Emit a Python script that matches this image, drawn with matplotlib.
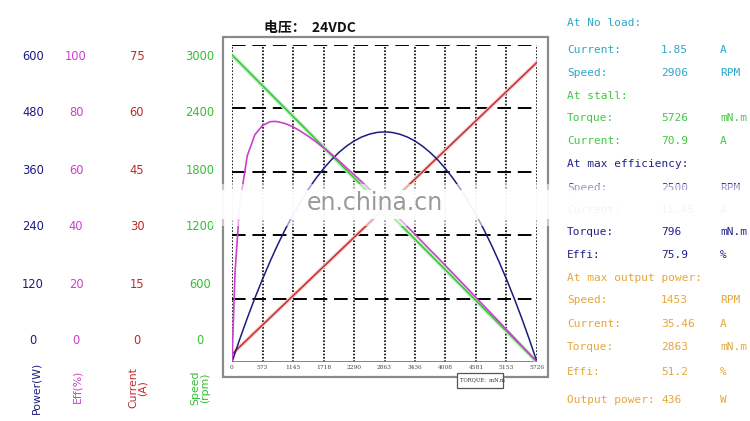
import matplotlib.pyplot as plt
from matplotlib.patches import Rectangle

# torque (mN.m) sample points
torque = [0, 57, 143, 286, 429, 573, 716, 796, 859, 1002, 1145, 1288, 1432, 1575,
          1718, 1861, 2004, 2147, 2290, 2433, 2577, 2720, 2863, 3006, 3149, 3292,
          3436, 3579, 3722, 3865, 4008, 4151, 4295, 4438, 4581, 4724, 4867, 5010,
          5153, 5296, 5440, 5583, 5726]
efficiency = [0, 28.3, 49.5, 65.0, 71.7, 74.6, 75.8, 75.9, 75.8, 75.2, 74.2, 72.8, 71.2, 69.5,
              67.6, 65.6, 63.5, 61.3, 59.1, 56.9, 54.6, 52.2, 49.9, 47.5, 45.1, 42.7,
              40.3, 37.8, 35.3, 32.9, 30.4, 27.9, 25.4, 22.9, 20.3, 17.8, 15.3, 12.8,
              10.2, 7.7, 5.1, 2.6, 0]
power = [0, 17.2, 42.5, 82.8, 120.9, 156.8, 190.6, 208.5, 222.2, 251.6, 278.8, 303.8, 326.7, 347.4,
         365.9, 382.3, 396.4, 408.4, 418.2, 425.8, 431.2, 434.5, 435.6, 434.5, 431.2, 425.8,
         418.2, 408.4, 396.4, 382.3, 365.9, 347.4, 326.7, 303.8, 278.8, 251.6, 222.2, 190.6,
         156.8, 120.9, 82.8, 42.5, 0]
line_torque = [0, 5726]
speed = [2906, 0]
current = [1.85, 70.9]

torque_ticks = [0, 573, 1145, 1718, 2290, 2863, 3436, 4008, 4581, 5153, 5726]
power_ticks = [600, 480, 360, 240, 120, 0]
eff_ticks = [100, 80, 60, 40, 20, 0]
current_ticks = [75, 60, 45, 30, 15, 0]
speed_ticks = [3000, 2400, 1800, 1200, 600, 0]

C_POWER = '#1c1c80'
C_EFF = '#cc3fcc'
C_CUR = '#c02a2a'
C_SPEED = '#33c033'
C_NOLOAD = '#2ea6c8'
C_STALL = '#44c844'
C_MAXEFF = '#22228a'
C_MAXOUT = '#e6a63a'

info_rows = [
    ('At No load:', '', '', C_NOLOAD, 23),
    ('Current:', '1.85', 'A', C_NOLOAD, 50),
    ('Speed:', '2906', 'RPM', C_NOLOAD, 73),
    ('At stall:', '', '', C_STALL, 96),
    ('Torque:', '5726', 'mN.m', C_STALL, 118),
    ('Current:', '70.9', 'A', C_STALL, 141),
    ('At max efficiency:', '', '', C_MAXEFF, 164),
    ('Speed:', '2500', 'RPM', C_MAXEFF, 188),
    ('Current:', '11.45', 'A', C_MAXEFF, 210),
    ('Torque:', '796', 'mN.m', C_MAXEFF, 232),
    ('Effi:', '75.9', '%', C_MAXEFF, 255),
    ('At max output power:', '', '', C_MAXOUT, 278),
    ('Speed:', '1453', 'RPM', C_MAXOUT, 300),
    ('Current:', '35.46', 'A', C_MAXOUT, 324),
    ('Torque:', '2863', 'mN.m', C_MAXOUT, 347),
    ('Effi:', '51.2', '%', C_MAXOUT, 372),
    ('Output power:', '436', 'W', C_MAXOUT, 400),
]

W, H = 750, 421


def fx(x):
    return x / W


def fy(y):
    return 1 - y / H


fig = plt.figure(figsize=(7.5, 4.21), dpi=100)
fig.patch.set_facecolor('white')

# outer frame
fig.patches.append(Rectangle((fx(223), fy(377)), (548 - 223) / W, (377 - 37) / H,
                             transform=fig.transFigure, fill=False,
                             edgecolor='#8a8a8a', lw=1.6, zorder=0))

pos = [fx(232), fy(362), (537 - 232) / W, (362 - 45) / H]
ax = fig.add_axes(pos)
ax.set_xlim(0, 5726)
ax.set_ylim(0, 3000)
for t in torque_ticks:
    ax.axvline(t, color='black', ls=(0, (1, 1)), lw=1.2, zorder=1)
for s in speed_ticks[:-1]:
    ax.axhline(s, color='black', ls=(0, (7, 3.5)), lw=1.4, zorder=1)
ax.axhline(0, color='#7a7a7a', lw=1.3, zorder=1)
for sp in ax.spines.values():
    sp.set_visible(False)
ax.set_yticks([])
ax.set_xticks(torque_ticks)
ax.set_xticklabels([str(t) for t in torque_ticks], fontsize=4.2,
                   family='DejaVu Serif', color='#444444')
ax.tick_params(axis='x', length=0, pad=2.5)

ax.plot(line_torque, speed, color='#b8f0b8', lw=3.0, zorder=2, solid_capstyle='round')
ax.plot(line_torque, speed, color=C_SPEED, lw=1.0, zorder=3)

ax_cur = ax.twinx()
ax_cur.set_ylim(0, 75)
ax_cur.axis('off')
ax_cur.plot(line_torque, current, color='#f5c0c0', lw=2.6)
ax_cur.plot(line_torque, current, color=C_CUR, lw=1.0)

ax_pow = ax.twinx()
ax_pow.set_ylim(0, 600)
ax_pow.axis('off')
ax_pow.plot(torque, power, color=C_POWER, lw=1.1)

ax_eff = ax.twinx()
ax_eff.set_ylim(0, 100)
ax_eff.axis('off')
ax_eff.plot(torque, efficiency, color=C_EFF, lw=1.2)

# left value columns
for i in range(6):
    y = fy(56 + i * 57)
    fig.text(fx(33), y, str(power_ticks[i]), color=C_POWER, fontsize=8.3, ha='center', va='center')
    fig.text(fx(76), y, str(eff_ticks[i]), color=C_EFF, fontsize=8.3, ha='center', va='center')
    fig.text(fx(137), y, str(current_ticks[i]), color=C_CUR, fontsize=8.3, ha='center', va='center')
    fig.text(fx(200), y, str(speed_ticks[i]), color=C_SPEED, fontsize=8.3, ha='center', va='center')

fig.text(fx(36), fy(388), 'Power(W)', color=C_POWER, fontsize=7.8, rotation=90,
         ha='center', va='center')
fig.text(fx(77), fy(386), 'Eff(%)', color=C_EFF, fontsize=7.8, rotation=90,
         ha='center', va='center')
fig.text(fx(138), fy(388), 'Current\n(A)', color=C_CUR, fontsize=7.8, rotation=90,
         ha='center', va='center', linespacing=1.0)
fig.text(fx(200), fy(388), 'Speed\n(rpm)', color=C_SPEED, fontsize=7.8, rotation=90,
         ha='center', va='center', linespacing=1.0)

# title
fig.text(fx(264), fy(28), '电压：  24VDC', family=['Noto Sans CJK SC', 'DejaVu Sans'],
         fontsize=10, weight='bold', color='#111111', va='center')

# torque unit box
fig.patches.append(Rectangle((fx(457), fy(388)), 46 / W, 15 / H, transform=fig.transFigure,
                             facecolor='white', edgecolor='#555555', lw=0.9, zorder=5))
fig.text(fx(460), fy(380), 'TORQUE:  mN.m', fontsize=3.8, family='DejaVu Serif',
         color='#333333', va='center', zorder=6)

# right info panel
for label, value, unit, color, y in info_rows:
    fig.text(fx(567), fy(y), label, color=color, fontsize=8, family='DejaVu Sans Mono', va='center')
    if value:
        fig.text(fx(661), fy(y), value, color=color, fontsize=8, family='DejaVu Sans Mono', va='center')
    if unit:
        fig.text(fx(720), fy(y), unit, color=color, fontsize=8, family='DejaVu Sans Mono', va='center')

# watermark band
fig.patches.append(Rectangle((fx(212), fy(226)), (750 - 212) / W, 42 / H, transform=fig.transFigure,
                             facecolor='white', edgecolor='none', alpha=0.55, zorder=20))
fig.patches.append(Rectangle((fx(212), fy(219)), (750 - 212) / W, 29 / H, transform=fig.transFigure,
                             facecolor='white', edgecolor='none', alpha=0.9, zorder=21))
fig.text(fx(375), fy(203), 'en.china.cn', color='#9a9a9a', fontsize=17, ha='center',
         va='center', zorder=22)

fig.savefig('out.png', dpi=100)
